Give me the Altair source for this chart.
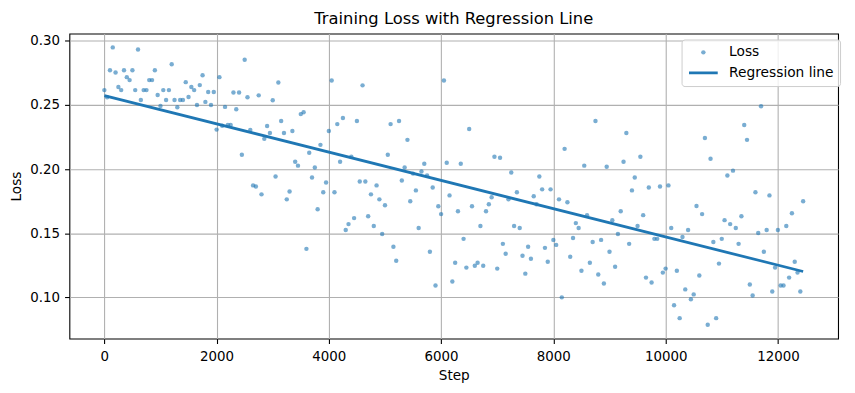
import altair as alt
import pandas as pd

title_text = "Training Loss with Regression Line"
series_names = ["Loss", "Regression line"]
blue = "#1f77b4"

steps = list(range(0, 12500, 50))
losses = [
    0.2616, 0.2560, 0.2771, 0.2949, 0.2753, 0.2640, 0.2616, 0.2771, 0.2717, 0.2694,
    0.2771, 0.2616, 0.2933, 0.2539, 0.2616, 0.2616, 0.2694, 0.2694, 0.2771, 0.2578,
    0.2493, 0.2616, 0.2539, 0.2616, 0.2817, 0.2539, 0.2483, 0.2539, 0.2539, 0.2678,
    0.2562, 0.2640, 0.2616, 0.2500, 0.2655, 0.2732, 0.2524, 0.2601, 0.2500, 0.2601,
    0.2308, 0.2717, 0.2338, 0.2485, 0.2344, 0.2344, 0.2598, 0.2467, 0.2598, 0.2112,
    0.2853, 0.2560, 0.2305, 0.1873, 0.1865, 0.2575, 0.1803, 0.2236, 0.2336, 0.2282,
    0.2537, 0.1942, 0.2676, 0.2375, 0.2282, 0.1764, 0.1826, 0.2297, 0.2058, 0.2027,
    0.2429, 0.2444, 0.1378, 0.2127, 0.1934, 0.2012, 0.1687, 0.2189, 0.1819, 0.1896,
    0.2297, 0.2691, 0.1819, 0.2351, 0.2058, 0.2398, 0.1525, 0.1571, 0.2097, 0.1618,
    0.2375, 0.1903, 0.2653, 0.1903, 0.1633, 0.1803, 0.1556, 0.1873, 0.1764, 0.1494,
    0.1718, 0.2112, 0.2351, 0.1394, 0.1286, 0.2375, 0.1911, 0.2012, 0.2228, 0.1749,
    0.1965, 0.1834, 0.1541, 0.1981, 0.2042, 0.1950, 0.1355, 0.1857, 0.1093, 0.1710,
    0.1649, 0.2691, 0.2050, 0.1795, 0.1124, 0.1270, 0.1672, 0.2042, 0.1456, 0.1232,
    0.2313, 0.1710, 0.1247, 0.1270, 0.1556, 0.1247, 0.1672, 0.1726, 0.1780, 0.2097,
    0.1224, 0.2089, 0.1417, 0.1340, 0.1764, 0.1973, 0.1556, 0.1819, 0.1541, 0.1324,
    0.1185, 0.1394, 0.1301, 0.1788, 0.1726, 0.1942, 0.1842, 0.1386, 0.1278, 0.1842,
    0.1448, 0.1409, 0.1764, 0.1000, 0.2158, 0.1741, 0.1317, 0.1463, 0.1579, 0.1541,
    0.1208, 0.2027, 0.1641, 0.1270, 0.1432, 0.2375, 0.1178, 0.1448, 0.1108, 0.2019,
    0.1355, 0.1602, 0.1239, 0.1494, 0.1672, 0.2058, 0.2282, 0.1417, 0.1834, 0.1934,
    0.1556, 0.2097, 0.1641, 0.1154, 0.1857, 0.1116, 0.1456, 0.1456, 0.1865, 0.1193,
    0.1224, 0.1873, 0.1541, 0.0938, 0.1208, 0.0838, 0.1471, 0.1062, 0.1525, 0.0985,
    0.1023, 0.1713, 0.1170, 0.1649, 0.2243, 0.0786, 0.2081, 0.1432, 0.0838, 0.1263,
    0.1456, 0.1602, 0.1950, 0.1571, 0.1988, 0.1541, 0.1417, 0.1633, 0.2344, 0.2228,
    0.1100, 0.1015, 0.1819, 0.1502, 0.2490, 0.1355, 0.1525, 0.1795, 0.1046, 0.1232,
    0.1525, 0.1093, 0.1093, 0.1556, 0.1154, 0.1656, 0.1278, 0.1193, 0.1046, 0.1749,
]
x_ticks = [0, 2000, 4000, 6000, 8000, 10000, 12000]
y_ticks = [0.10, 0.15, 0.20, 0.25, 0.30]
x_domain = [-622.5, 13072.5]
y_domain = [0.0678, 0.3057]

df = pd.DataFrame({"step": steps, "loss": losses})
df["series"] = series_names[0]

FONT = "DejaVu Sans"

legend = alt.Legend(
    title=None,
    orient="none",
    legendX=618,
    legendY=6,
    labelFont=FONT,
    labelFontSize=13.9,
    labelColor="black",
    labelOffset=10,
    padding=6,
    clipHeight=14,
    rowPadding=6.6,
    fillColor="rgba(255,255,255,0.8)",
    strokeColor="#cccccc",
    cornerRadius=3,
    symbolStrokeColor=blue,
)

color = alt.Color(
    "series:N",
    scale=alt.Scale(domain=series_names, range=[blue, blue]),
    legend=legend,
)

x_enc = alt.X(
    "step:Q",
    scale=alt.Scale(domain=x_domain, nice=False, zero=False),
    axis=alt.Axis(values=x_ticks, format="d", title="Step"),
)
y_enc = alt.Y(
    "loss:Q",
    scale=alt.Scale(domain=y_domain, nice=False, zero=False),
    axis=alt.Axis(values=y_ticks, format=".2f", title="Loss"),
)

points = alt.Chart(df).mark_point(filled=True).encode(
    x=x_enc,
    y=y_enc,
    color=color,
    shape=alt.Shape("series:N", scale=alt.Scale(domain=series_names, range=["circle", "stroke"]), legend=legend),
    size=alt.Size("series:N", scale=alt.Scale(domain=series_names, range=[20, 841]), legend=legend),
    opacity=alt.Opacity("series:N", scale=alt.Scale(domain=series_names, range=[0.6, 1.0]), legend=legend),
    strokeWidth=alt.StrokeWidth("series:N", scale=alt.Scale(domain=series_names, range=[0, 2.8]), legend=legend),
)

line = (
    alt.Chart(df)
    .transform_regression("step", "loss", extent=[0, 12450])
    .transform_calculate(series="'Regression line'")
    .mark_line(strokeWidth=2.8)
    .encode(x=x_enc, y=y_enc, color=color)
)

chart = (
    alt.layer(points, line)
    .properties(
        width=776,
        height=308,
        autosize=alt.AutoSizeParams(type="none"),
        padding={"left": 62, "top": 24, "right": 9, "bottom": 45},
        title=alt.TitleParams(
            title_text,
            font=FONT,
            fontSize=16.5,
            fontWeight="normal",
            color="black",
            anchor="middle",
            offset=6,
        ),
    )
    .configure_view(stroke="black", strokeWidth=1.1)
    .configure_axis(
        domain=False,
        grid=True,
        gridColor="#b0b0b0",
        gridWidth=1.1,
        ticks=True,
        tickColor="black",
        tickSize=4.9,
        tickWidth=1.1,
        labelFont=FONT,
        labelFontSize=13.5,
        labelColor="black",
        titleFont=FONT,
        titleFontSize=13.7,
        titleFontWeight="normal",
        titleColor="black",
    )
    .configure_axisX(labelPadding=6, titlePadding=6, labelFlush=False)
    .configure_axisY(labelPadding=5, titlePadding=6)
)

chart.save("out.html", embed_options={"renderer": "svg", "actions": False})
